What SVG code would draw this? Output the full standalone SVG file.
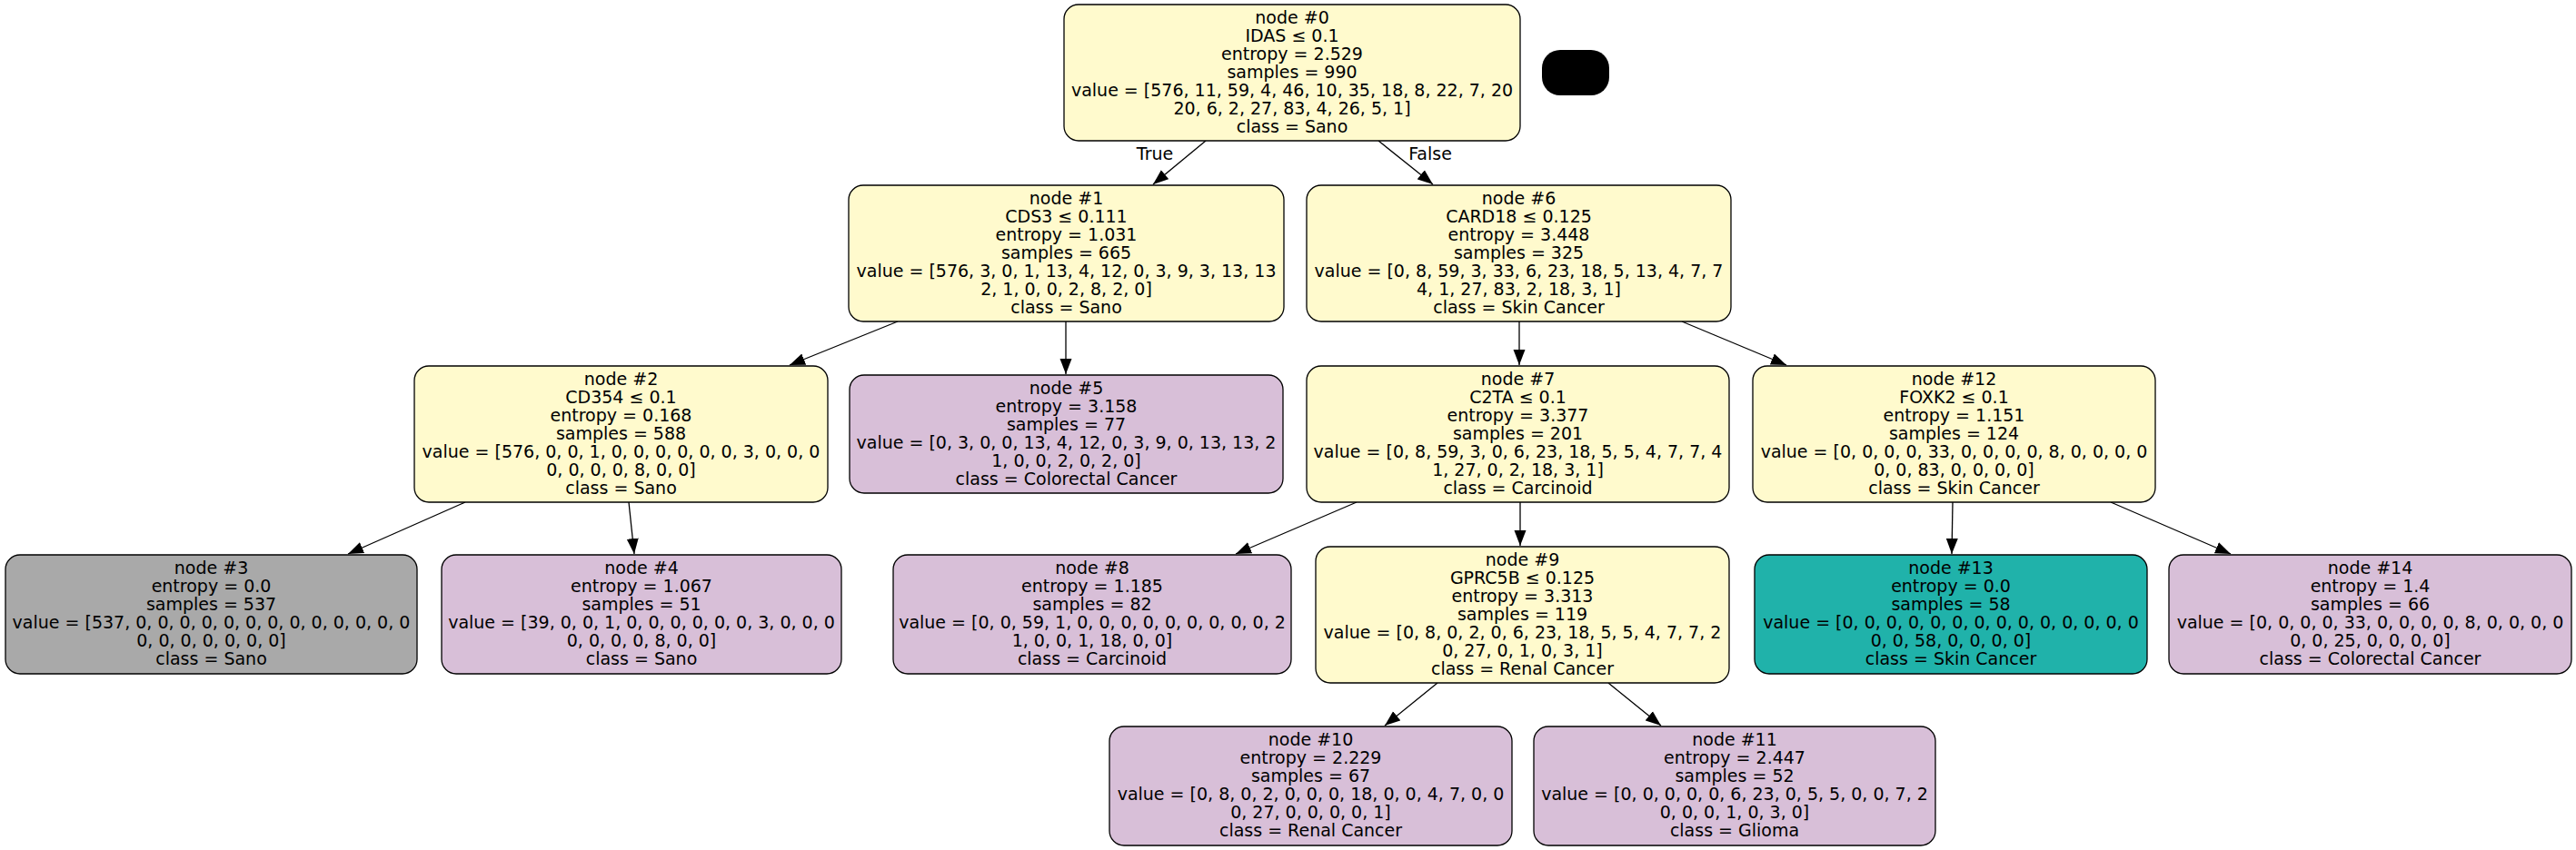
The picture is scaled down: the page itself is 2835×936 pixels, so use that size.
<svg xmlns="http://www.w3.org/2000/svg" width="2835" height="936" viewBox="0 0 2835 936">
<style>
.n rect{stroke:#000;stroke-width:1.3}
.y{fill:#fffacd}.p{fill:#d8bfd8}.g{fill:#a9a9a9}.s{fill:#20b2aa}
text{font-family:"DejaVu Sans","Liberation Sans",sans-serif;font-size:19px;text-anchor:middle;fill:#000}
.e line{stroke:#000;stroke-width:1.3;marker-end:url(#a)}
</style>
<defs>
<marker id="a" markerUnits="userSpaceOnUse" markerWidth="18" markerHeight="14" refX="17" refY="7" orient="auto">
<path d="M0,0.5 L17,7 L0,13.5 z" fill="#000"/>
</marker>
</defs>
<rect width="2835" height="936" fill="#fff"/>
<g id="connectors" class="e">
<line x1="1327" y1="155" x2="1269" y2="203"/>
<line x1="1517" y1="155" x2="1577" y2="203"/>
<line x1="988" y1="354" x2="869" y2="402"/>
<line x1="1173" y1="354" x2="1173" y2="412"/>
<line x1="1672" y1="354" x2="1672" y2="402"/>
<line x1="1851" y1="354" x2="1966" y2="402"/>
<line x1="512" y1="553" x2="383" y2="610"/>
<line x1="692" y1="553" x2="698" y2="610"/>
<line x1="1493" y1="553" x2="1360" y2="610"/>
<line x1="1673" y1="553" x2="1673" y2="601"/>
<line x1="2149" y1="553" x2="2148" y2="610"/>
<line x1="2323" y1="553" x2="2455" y2="610"/>
<line x1="1582" y1="752" x2="1524" y2="799"/>
<line x1="1770" y1="752" x2="1828" y2="799"/>
<text x="1271" y="176">True</text>
<text x="1574" y="176">False</text>
</g>
<g id="node0" class="n"><rect class="y" x="1171" y="5" width="502" height="150" rx="16"/>
<text y="26"><tspan x="1422">node #0</tspan><tspan x="1422" dy="20">IDAS ≤ 0.1</tspan><tspan x="1422" dy="20">entropy = 2.529</tspan><tspan x="1422" dy="20">samples = 990</tspan><tspan x="1422" dy="20">value = [576, 11, 59, 4, 46, 10, 35, 18, 8, 22, 7, 20</tspan><tspan x="1422" dy="20">20, 6, 2, 27, 83, 4, 26, 5, 1]</tspan><tspan x="1422" dy="20">class = Sano</tspan></text></g>
<g id="legend"><rect x="1697" y="55" width="74" height="50" rx="20" fill="#000"/></g>
<g id="node1" class="n"><rect class="y" x="934" y="204" width="479" height="150" rx="16"/>
<text y="225"><tspan x="1173.5">node #1</tspan><tspan x="1173.5" dy="20">CDS3 ≤ 0.111</tspan><tspan x="1173.5" dy="20">entropy = 1.031</tspan><tspan x="1173.5" dy="20">samples = 665</tspan><tspan x="1173.5" dy="20">value = [576, 3, 0, 1, 13, 4, 12, 0, 3, 9, 3, 13, 13</tspan><tspan x="1173.5" dy="20">2, 1, 0, 0, 2, 8, 2, 0]</tspan><tspan x="1173.5" dy="20">class = Sano</tspan></text></g>
<g id="node6" class="n"><rect class="y" x="1438" y="204" width="467" height="150" rx="16"/>
<text y="225"><tspan x="1671.5">node #6</tspan><tspan x="1671.5" dy="20">CARD18 ≤ 0.125</tspan><tspan x="1671.5" dy="20">entropy = 3.448</tspan><tspan x="1671.5" dy="20">samples = 325</tspan><tspan x="1671.5" dy="20">value = [0, 8, 59, 3, 33, 6, 23, 18, 5, 13, 4, 7, 7</tspan><tspan x="1671.5" dy="20">4, 1, 27, 83, 2, 18, 3, 1]</tspan><tspan x="1671.5" dy="20">class = Skin Cancer</tspan></text></g>
<g id="node2" class="n"><rect class="y" x="456" y="403" width="455" height="150" rx="16"/>
<text y="424"><tspan x="683.5">node #2</tspan><tspan x="683.5" dy="20">CD354 ≤ 0.1</tspan><tspan x="683.5" dy="20">entropy = 0.168</tspan><tspan x="683.5" dy="20">samples = 588</tspan><tspan x="683.5" dy="20">value = [576, 0, 0, 1, 0, 0, 0, 0, 0, 0, 3, 0, 0, 0</tspan><tspan x="683.5" dy="20">0, 0, 0, 0, 8, 0, 0]</tspan><tspan x="683.5" dy="20">class = Sano</tspan></text></g>
<g id="node5" class="n"><rect class="p" x="935" y="413" width="477" height="130" rx="16"/>
<text y="434"><tspan x="1173.5">node #5</tspan><tspan x="1173.5" dy="20">entropy = 3.158</tspan><tspan x="1173.5" dy="20">samples = 77</tspan><tspan x="1173.5" dy="20">value = [0, 3, 0, 0, 13, 4, 12, 0, 3, 9, 0, 13, 13, 2</tspan><tspan x="1173.5" dy="20">1, 0, 0, 2, 0, 2, 0]</tspan><tspan x="1173.5" dy="20">class = Colorectal Cancer</tspan></text></g>
<g id="node7" class="n"><rect class="y" x="1438" y="403" width="465" height="150" rx="16"/>
<text y="424"><tspan x="1670.5">node #7</tspan><tspan x="1670.5" dy="20">C2TA ≤ 0.1</tspan><tspan x="1670.5" dy="20">entropy = 3.377</tspan><tspan x="1670.5" dy="20">samples = 201</tspan><tspan x="1670.5" dy="20">value = [0, 8, 59, 3, 0, 6, 23, 18, 5, 5, 4, 7, 7, 4</tspan><tspan x="1670.5" dy="20">1, 27, 0, 2, 18, 3, 1]</tspan><tspan x="1670.5" dy="20">class = Carcinoid</tspan></text></g>
<g id="node12" class="n"><rect class="y" x="1929" y="403" width="443" height="150" rx="16"/>
<text y="424"><tspan x="2150.5">node #12</tspan><tspan x="2150.5" dy="20">FOXK2 ≤ 0.1</tspan><tspan x="2150.5" dy="20">entropy = 1.151</tspan><tspan x="2150.5" dy="20">samples = 124</tspan><tspan x="2150.5" dy="20">value = [0, 0, 0, 0, 33, 0, 0, 0, 0, 8, 0, 0, 0, 0</tspan><tspan x="2150.5" dy="20">0, 0, 83, 0, 0, 0, 0]</tspan><tspan x="2150.5" dy="20">class = Skin Cancer</tspan></text></g>
<g id="node3" class="n"><rect class="g" x="6" y="611" width="453" height="131" rx="16"/>
<text y="632"><tspan x="232.5">node #3</tspan><tspan x="232.5" dy="20">entropy = 0.0</tspan><tspan x="232.5" dy="20">samples = 537</tspan><tspan x="232.5" dy="20">value = [537, 0, 0, 0, 0, 0, 0, 0, 0, 0, 0, 0, 0, 0</tspan><tspan x="232.5" dy="20">0, 0, 0, 0, 0, 0, 0]</tspan><tspan x="232.5" dy="20">class = Sano</tspan></text></g>
<g id="node4" class="n"><rect class="p" x="486" y="611" width="440" height="131" rx="16"/>
<text y="632"><tspan x="706">node #4</tspan><tspan x="706" dy="20">entropy = 1.067</tspan><tspan x="706" dy="20">samples = 51</tspan><tspan x="706" dy="20">value = [39, 0, 0, 1, 0, 0, 0, 0, 0, 0, 3, 0, 0, 0</tspan><tspan x="706" dy="20">0, 0, 0, 0, 8, 0, 0]</tspan><tspan x="706" dy="20">class = Sano</tspan></text></g>
<g id="node8" class="n"><rect class="p" x="983" y="611" width="438" height="131" rx="16"/>
<text y="632"><tspan x="1202">node #8</tspan><tspan x="1202" dy="20">entropy = 1.185</tspan><tspan x="1202" dy="20">samples = 82</tspan><tspan x="1202" dy="20">value = [0, 0, 59, 1, 0, 0, 0, 0, 0, 0, 0, 0, 0, 2</tspan><tspan x="1202" dy="20">1, 0, 0, 1, 18, 0, 0]</tspan><tspan x="1202" dy="20">class = Carcinoid</tspan></text></g>
<g id="node9" class="n"><rect class="y" x="1448" y="602" width="455" height="150" rx="16"/>
<text y="623"><tspan x="1675.5">node #9</tspan><tspan x="1675.5" dy="20">GPRC5B ≤ 0.125</tspan><tspan x="1675.5" dy="20">entropy = 3.313</tspan><tspan x="1675.5" dy="20">samples = 119</tspan><tspan x="1675.5" dy="20">value = [0, 8, 0, 2, 0, 6, 23, 18, 5, 5, 4, 7, 7, 2</tspan><tspan x="1675.5" dy="20">0, 27, 0, 1, 0, 3, 1]</tspan><tspan x="1675.5" dy="20">class = Renal Cancer</tspan></text></g>
<g id="node13" class="n"><rect class="s" x="1931" y="611" width="432" height="131" rx="16"/>
<text y="632"><tspan x="2147">node #13</tspan><tspan x="2147" dy="20">entropy = 0.0</tspan><tspan x="2147" dy="20">samples = 58</tspan><tspan x="2147" dy="20">value = [0, 0, 0, 0, 0, 0, 0, 0, 0, 0, 0, 0, 0, 0</tspan><tspan x="2147" dy="20">0, 0, 58, 0, 0, 0, 0]</tspan><tspan x="2147" dy="20">class = Skin Cancer</tspan></text></g>
<g id="node14" class="n"><rect class="p" x="2387" y="611" width="443" height="131" rx="16"/>
<text y="632"><tspan x="2608.5">node #14</tspan><tspan x="2608.5" dy="20">entropy = 1.4</tspan><tspan x="2608.5" dy="20">samples = 66</tspan><tspan x="2608.5" dy="20">value = [0, 0, 0, 0, 33, 0, 0, 0, 0, 8, 0, 0, 0, 0</tspan><tspan x="2608.5" dy="20">0, 0, 25, 0, 0, 0, 0]</tspan><tspan x="2608.5" dy="20">class = Colorectal Cancer</tspan></text></g>
<g id="node10" class="n"><rect class="p" x="1221" y="800" width="443" height="131" rx="16"/>
<text y="821"><tspan x="1442.5">node #10</tspan><tspan x="1442.5" dy="20">entropy = 2.229</tspan><tspan x="1442.5" dy="20">samples = 67</tspan><tspan x="1442.5" dy="20">value = [0, 8, 0, 2, 0, 0, 0, 18, 0, 0, 4, 7, 0, 0</tspan><tspan x="1442.5" dy="20">0, 27, 0, 0, 0, 0, 1]</tspan><tspan x="1442.5" dy="20">class = Renal Cancer</tspan></text></g>
<g id="node11" class="n"><rect class="p" x="1688" y="800" width="442" height="131" rx="16"/>
<text y="821"><tspan x="1909">node #11</tspan><tspan x="1909" dy="20">entropy = 2.447</tspan><tspan x="1909" dy="20">samples = 52</tspan><tspan x="1909" dy="20">value = [0, 0, 0, 0, 0, 6, 23, 0, 5, 5, 0, 0, 7, 2</tspan><tspan x="1909" dy="20">0, 0, 0, 1, 0, 3, 0]</tspan><tspan x="1909" dy="20">class = Glioma</tspan></text></g>
</svg>
